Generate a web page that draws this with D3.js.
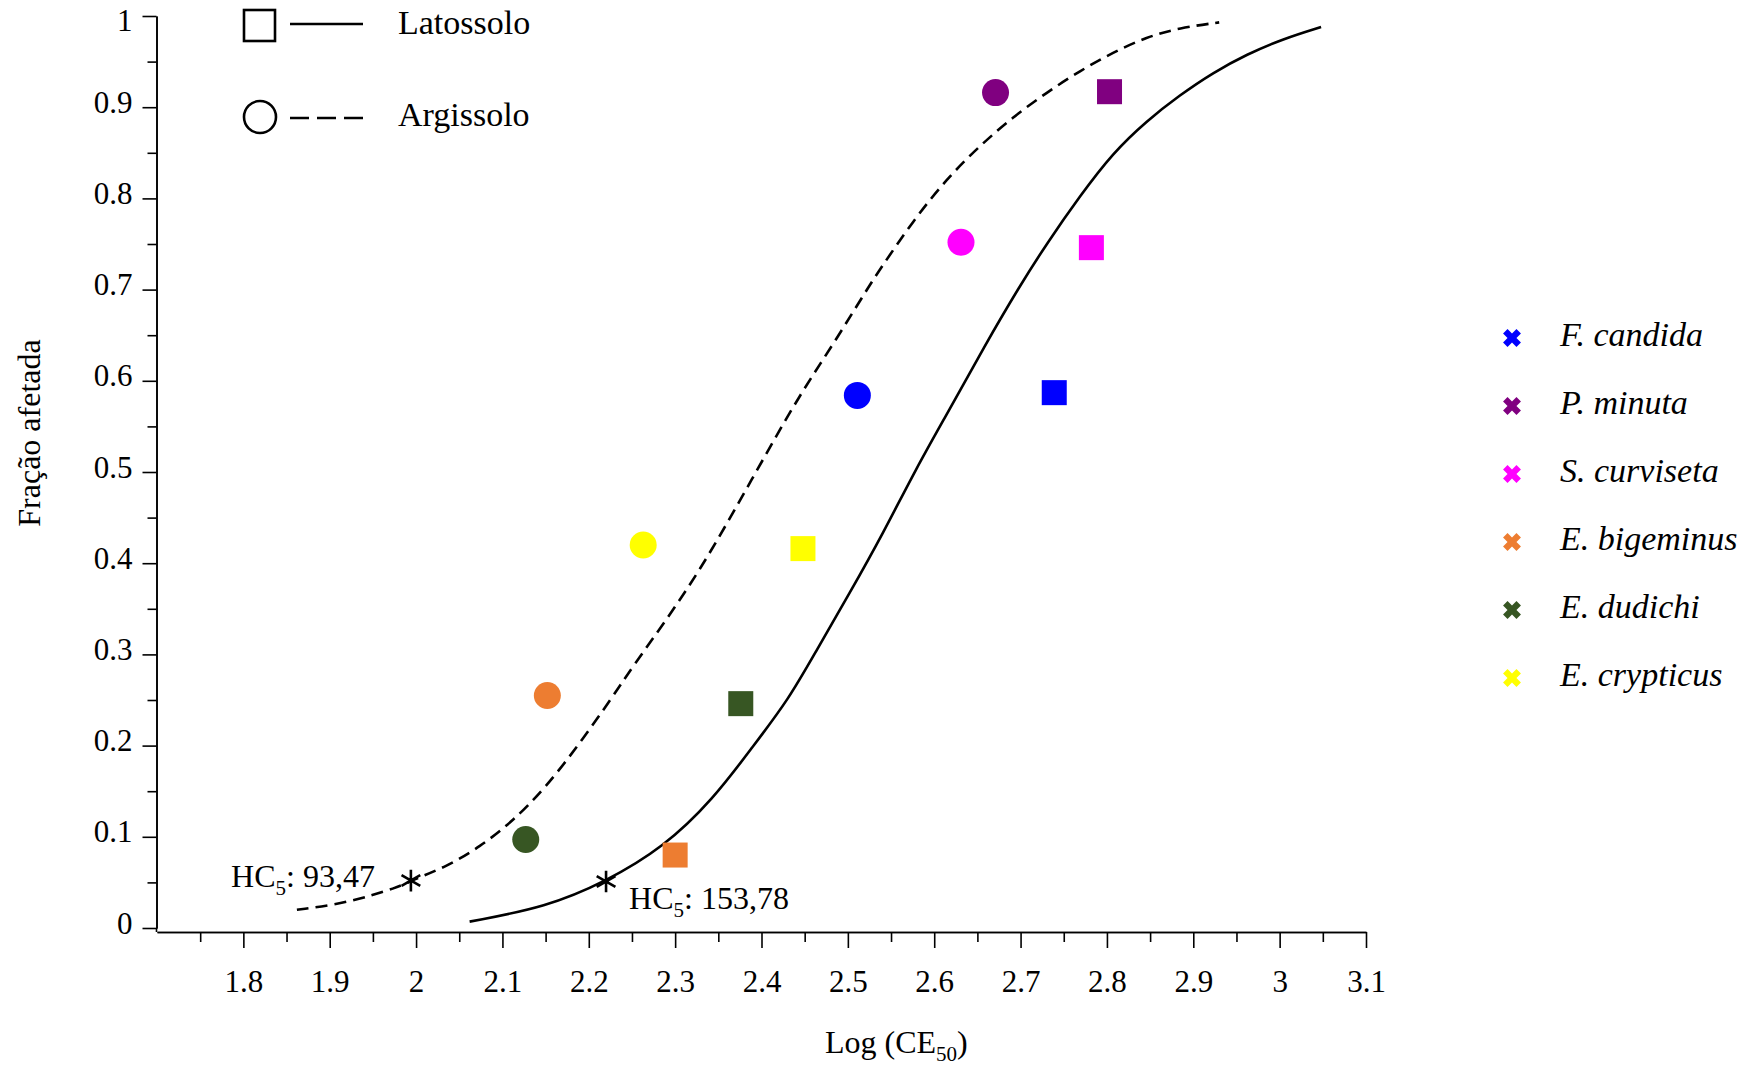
<!DOCTYPE html>
<html>
<head>
<meta charset="utf-8">
<script src="https://cdn.jsdelivr.net/npm/d3@7"></script>
<style>
  html, body { margin: 0; padding: 0; background: #fff; }
  svg { display: block; }
  text { font-family: "Liberation Serif", "Times New Roman", serif; fill: #000; }
</style>
</head>
<body>
<svg id="chart" width="1758" height="1065"></svg>
<script>
// ---------- data ----------
const species = ["F. candida", "P. minuta", "S. curviseta", "E. bigeminus", "E. dudichi", "E. crypticus"];
const speciesColors = ["#0000ff", "#800080", "#ff00ff", "#ed7d31", "#375623", "#ffff00"];

// Argissolo (circles)
const argissoloX = [2.511, 2.671, 2.631, 2.152, 2.127, 2.263];
const argissoloY = [0.584, 0.916, 0.752, 0.255, 0.097, 0.420];
// Latossolo (squares)
const latossoloX = [2.739, 2.803, 2.782, 2.300, 2.376, 2.448];
const latossoloY = [0.587, 0.917, 0.746, 0.080, 0.246, 0.416];

// fitted curves
const argissoloCurveX = [1.862, 1.919, 1.981, 1.994, 2.035, 2.074, 2.112, 2.151, 2.190, 2.228, 2.251, 2.290, 2.329, 2.367, 2.406, 2.444, 2.483, 2.522, 2.537, 2.576, 2.614, 2.653, 2.691, 2.730, 2.769, 2.807, 2.846, 2.884, 2.930];
const argissoloCurveY = [0.020, 0.027, 0.045, 0.052, 0.067, 0.089, 0.117, 0.155, 0.203, 0.254, 0.287, 0.338, 0.393, 0.455, 0.521, 0.584, 0.640, 0.700, 0.722, 0.776, 0.821, 0.858, 0.889, 0.916, 0.940, 0.960, 0.977, 0.987, 0.993];
const latossoloCurveX = [2.062, 2.151, 2.220, 2.286, 2.344, 2.390, 2.431, 2.464, 2.502, 2.541, 2.579, 2.618, 2.657, 2.699, 2.730, 2.769, 2.807, 2.846, 2.884, 2.923, 2.962, 3.004, 3.048];
const latossoloCurveY = [0.007, 0.023, 0.051, 0.088, 0.141, 0.199, 0.250, 0.305, 0.367, 0.433, 0.504, 0.569, 0.636, 0.704, 0.750, 0.803, 0.850, 0.885, 0.913, 0.938, 0.958, 0.975, 0.988];

// HC5 markers
const hc5Soils = ["Argissolo", "Latossolo"];
const hc5X = [1.994, 2.220];
const hc5Y = [0.052, 0.051];
const hc5Values = ["93,47", "153,78"];

// ticks
const xMajorTicks = [1.8, 1.9, 2.0, 2.1, 2.2, 2.3, 2.4, 2.5, 2.6, 2.7, 2.8, 2.9, 3.0, 3.1];
const xTickLabels = ["1.8", "1.9", "2", "2.1", "2.2", "2.3", "2.4", "2.5", "2.6", "2.7", "2.8", "2.9", "3", "3.1"];
const xMinorTicks = [1.75, 1.85, 1.95, 2.05, 2.15, 2.25, 2.35, 2.45, 2.55, 2.65, 2.75, 2.85, 2.95, 3.05];
const yMajorTicks = [0, 0.1, 0.2, 0.3, 0.4, 0.5, 0.6, 0.7, 0.8, 0.9, 1];
const yTickLabels = ["0", "0.1", "0.2", "0.3", "0.4", "0.5", "0.6", "0.7", "0.8", "0.9", "1"];
const yMinorTicks = [0.05, 0.15, 0.25, 0.35, 0.45, 0.55, 0.65, 0.75, 0.85, 0.95];

const soilNames = ["Latossolo", "Argissolo"];
const xTitle = "Log (CE";
const xTitleSub = "50";
const yTitle = "Fração afetada";

// ---------- drawing ----------
const FONT = '"Liberation Serif", "Times New Roman", serif';
const svg = d3.select("#chart");
svg.append("rect").attr("width", 1758).attr("height", 1065).attr("fill", "#fff");

const x = d3.scaleLinear().domain([1.7, 3.1]).range([157, 1366]);
const y = d3.scaleLinear().domain([0, 1]).range([928, 16]);
const xAxisY = 932;
const yAxisX = 156.5;

// X axis
const gx = svg.append("g").attr("transform", `translate(0,${xAxisY})`);
gx.call(d3.axisBottom(x).tickValues(xMinorTicks).tickSize(10).tickSizeOuter(0).tickFormat(""));
const gx2 = svg.append("g").attr("transform", `translate(0,${xAxisY})`);
gx2.call(d3.axisBottom(x).tickValues(xMajorTicks).tickSize(16).tickSizeOuter(0)
  .tickFormat((d, i) => xTickLabels[i]));
gx2.attr("font-family", FONT);
gx2.selectAll("text").attr("y", 60).attr("dy", 0).style("font-size", "31px").style("font-family", FONT);
[gx, gx2].forEach(g => {
  g.selectAll("path, line").attr("stroke", "#000").attr("stroke-width", 1.6);
});

// Y axis
const gy = svg.append("g").attr("transform", `translate(${yAxisX},0)`);
gy.call(d3.axisLeft(y).tickValues(yMinorTicks).tickSize(9).tickSizeOuter(0).tickFormat(""));
const gy2 = svg.append("g").attr("transform", `translate(${yAxisX},0)`);
gy2.call(d3.axisLeft(y).tickValues(yMajorTicks).tickSize(14).tickPadding(10).tickSizeOuter(0)
  .tickFormat((d, i) => yTickLabels[i]));
gy2.attr("font-family", FONT);
gy2.selectAll("text").attr("dy", d => (d === 1 ? 14 : 5)).style("font-size", "31px").style("font-family", FONT);
[gy, gy2].forEach(g => {
  g.selectAll("path, line").attr("stroke", "#000").attr("stroke-width", 1.6);
});
// join y axis down to the x axis
svg.append("line").attr("x1", yAxisX).attr("x2", yAxisX).attr("y1", y(0)).attr("y2", xAxisY)
  .attr("stroke", "#000").attr("stroke-width", 1.6);

// Axis titles
const xt = svg.append("text").attr("x", 825).attr("y", 1053).style("font-size", "32px").style("font-family", FONT);
xt.append("tspan").text(xTitle);
xt.append("tspan").text(xTitleSub).attr("dy", 8).style("font-size", "21px");
xt.append("tspan").text(")").attr("dy", -8);

svg.append("text").attr("transform", "translate(40,433) rotate(-90)")
  .attr("text-anchor", "middle").style("font-size", "32px").style("font-family", FONT).text(yTitle);

// Curves
const line = d3.line().x(d => x(d[0])).y(d => y(d[1])).curve(d3.curveBasis);
const argCurve = argissoloCurveX.map((v, i) => [v, argissoloCurveY[i]]);
const latCurve = latossoloCurveX.map((v, i) => [v, latossoloCurveY[i]]);
svg.append("path").datum(argCurve).attr("d", line).attr("fill", "none")
  .attr("stroke", "#000").attr("stroke-width", 2.6).attr("stroke-dasharray", "12,7");
svg.append("path").datum(latCurve).attr("d", line).attr("fill", "none")
  .attr("stroke", "#000").attr("stroke-width", 2.6);

// Points
const argPts = argissoloX.map((v, i) => ({ x: v, y: argissoloY[i], c: speciesColors[i] }));
const latPts = latossoloX.map((v, i) => ({ x: v, y: latossoloY[i], c: speciesColors[i] }));
svg.selectAll("circle.arg").data(argPts).enter().append("circle").attr("class", "arg")
  .attr("cx", d => x(d.x)).attr("cy", d => y(d.y)).attr("r", 13.5).attr("fill", d => d.c);
const sq = 25;
svg.selectAll("rect.lat").data(latPts).enter().append("rect").attr("class", "lat")
  .attr("x", d => x(d.x) - sq / 2).attr("y", d => y(d.y) - sq / 2)
  .attr("width", sq).attr("height", sq).attr("fill", d => d.c);

// HC5 asterisks + labels
const ast = d3.symbol().type(d3.symbolAsterisk).size(330);
const labelOffsets = [{ dx: -36, dy: 6, anchor: "end" }, { dx: 23, dy: 28, anchor: "start" }];
hc5Soils.forEach((s, i) => {
  const px = x(hc5X[i]), py = y(hc5Y[i]);
  svg.append("path").attr("d", ast()).attr("transform", `translate(${px},${py})`)
    .attr("fill", "none").attr("stroke", "#000").attr("stroke-width", 2.6);
  const t = svg.append("text").attr("x", px + labelOffsets[i].dx).attr("y", py + labelOffsets[i].dy)
    .attr("text-anchor", labelOffsets[i].anchor).style("font-size", "32px").style("font-family", FONT);
  t.append("tspan").text("HC");
  t.append("tspan").text("5").attr("dy", 8).style("font-size", "21px");
  t.append("tspan").text(": " + hc5Values[i]).attr("dy", -8);
});

// Top-left legend (soil types)
const lg = svg.append("g");
lg.append("rect").attr("x", 244).attr("y", 10).attr("width", 31).attr("height", 31)
  .attr("fill", "none").attr("stroke", "#000").attr("stroke-width", 2.6);
lg.append("line").attr("x1", 290).attr("x2", 363).attr("y1", 24).attr("y2", 24)
  .attr("stroke", "#000").attr("stroke-width", 2.6);
lg.append("text").attr("x", 398).attr("y", 34).style("font-size", "34px").style("font-family", FONT).text(soilNames[0]);
lg.append("circle").attr("cx", 260).attr("cy", 117).attr("r", 16)
  .attr("fill", "none").attr("stroke", "#000").attr("stroke-width", 2.6);
lg.append("line").attr("x1", 290).attr("x2", 363).attr("y1", 118).attr("y2", 118)
  .attr("stroke", "#000").attr("stroke-width", 2.6).attr("stroke-dasharray", "19,8");
lg.append("text").attr("x", 398).attr("y", 126).style("font-size", "34px").style("font-family", FONT).text(soilNames[1]);

// Right legend (species)
const cross = d3.symbol().type(d3.symbolCross).size(200);
const rl = svg.append("g");
species.forEach((s, i) => {
  const cy = 338 + i * 68;
  rl.append("path").attr("d", cross()).attr("transform", `translate(1512,${cy}) rotate(45)`)
    .attr("fill", speciesColors[i]);
  rl.append("text").attr("x", 1560).attr("y", cy + 8).style("font-size", "34px")
    .style("font-family", FONT).style("font-style", "italic").text(s);
});
</script>
</body>
</html>
